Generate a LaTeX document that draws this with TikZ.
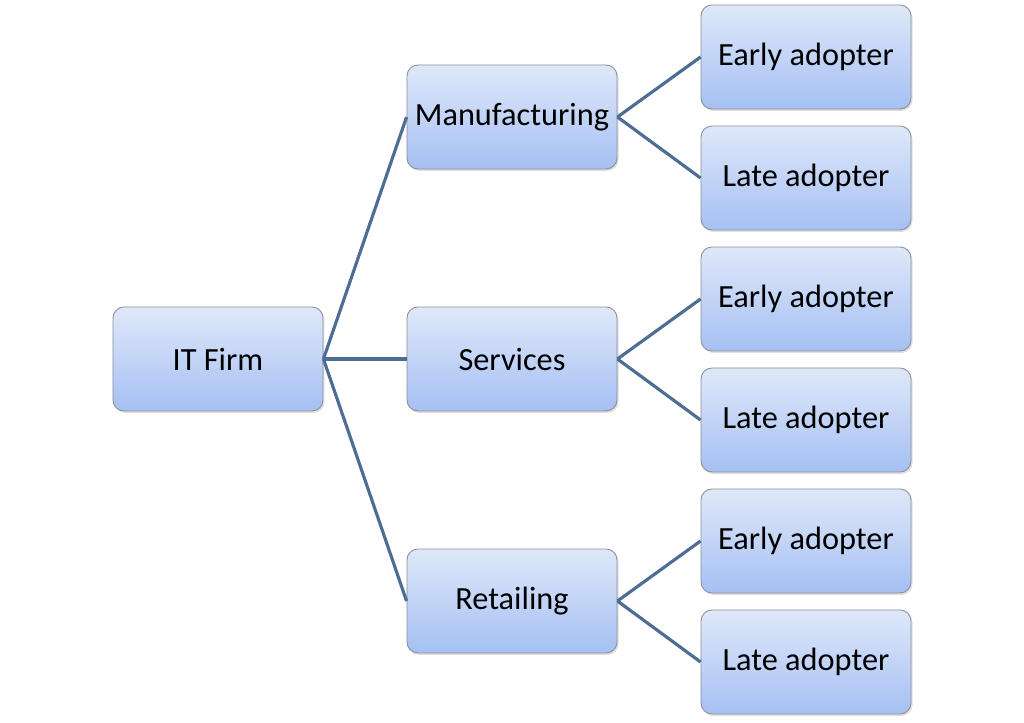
\documentclass[tikz,border=0pt]{standalone}
\usepackage{fontspec}
\setmainfont{Carlito}
\usetikzlibrary{positioning,shadows}
\definecolor{boxtop}{HTML}{DFE8F9}
\definecolor{boxbot}{HTML}{A5C0F4}
\definecolor{linkblue}{HTML}{4E6D94}
\definecolor{boxrim}{HTML}{8A8F98}

\begin{document}
\begin{tikzpicture}[node distance=5.88cm,on grid,
    box/.style={draw=boxrim,line width=0.5pt,rounded corners=0.22cm,
      top color=boxtop,bottom color=boxbot,
      minimum width=4.2cm,minimum height=2.08cm,font=\fontsize{18.4}{20}\selectfont,
      drop shadow={opacity=0.25,shadow xshift=0.03cm,shadow yshift=-0.04cm}},
    link/.style={draw=linkblue,line width=1.8pt}]
   \useasboundingbox (-4.36,-7.28) rectangle (16.12,7.18);
   \node[box] (it)   {IT Firm};
   \node[box] (serv) [right=of it] {Services};
   \node[box] (manu) [above=4.84cm of serv] {Manufacturing};
   \node[box] (ret)  [below=4.84cm of serv] {Retailing};
   \node[box] (manu_e) [above right=1.2cm and 5.88cm of manu] {Early adopter};
   \node[box] (manu_l) [below right=1.22cm and 5.88cm of manu] {Late adopter};
   \node[box] (serv_e) [above right=1.2cm and 5.88cm of serv] {Early adopter};
   \node[box] (serv_l) [below right=1.22cm and 5.88cm of serv] {Late adopter};
   \node[box] (ret_e)  [above right=1.2cm and 5.88cm of ret] {Early adopter};
   \node[box] (ret_l)  [below right=1.22cm and 5.88cm of ret] {Late adopter};
    \path[link]
    (it.east) edge (manu.west)
              edge (serv.west)
              edge (ret.west)
    (manu.east) edge (manu_e.west)
                edge (manu_l.west)
    (serv.east) edge (serv_e.west)
                edge (serv_l.west)
    (ret.east) edge (ret_e.west)
               edge (ret_l.west);
\end{tikzpicture}
\end{document}
